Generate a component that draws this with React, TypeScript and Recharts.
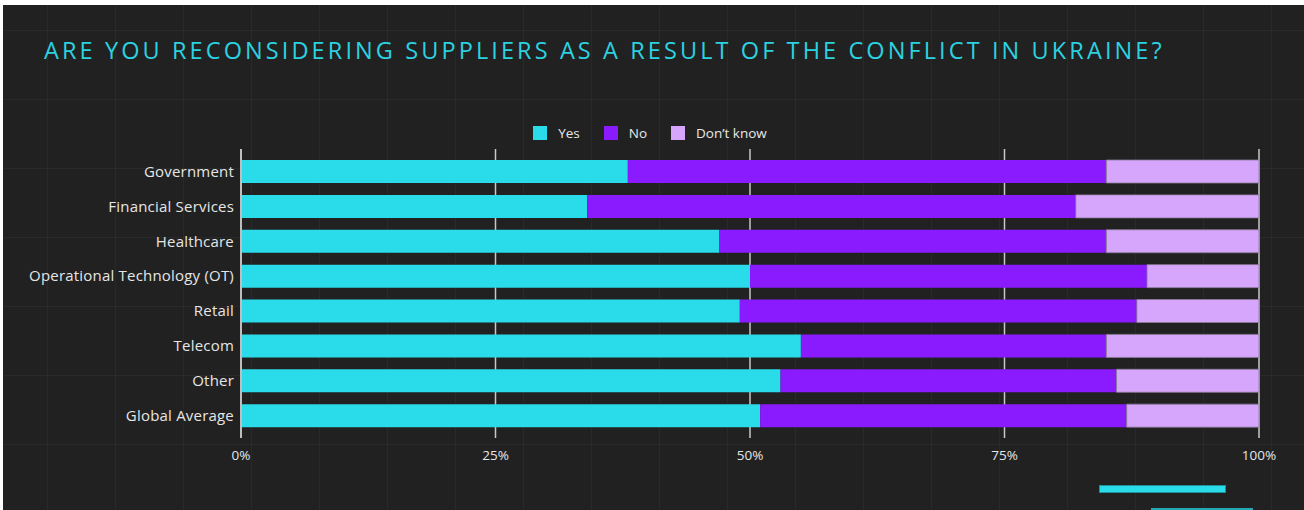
import React from "react";
import { BarChart, Bar, XAxis, YAxis, CartesianGrid } from "recharts";

const categories = [
  "Government",
  "Financial Services",
  "Healthcare",
  "Operational Technology (OT)",
  "Retail",
  "Telecom",
  "Other",
  "Global Average",
];
const yesValues = [38, 34, 47, 50, 49, 55, 53, 51];
const noValues = [47, 48, 38, 39, 39, 30, 33, 36];
const dontKnowValues = [15, 18, 15, 11, 12, 15, 14, 13];
const xTicks = [0, 25, 50, 75, 100];

const series = [
  { key: "yes", name: "Yes", color: "#2adbe9" },
  { key: "no", name: "No", color: "#8a1bff" },
  { key: "dk", name: "Don\u2019t know", color: "#d6a6fc" },
];

const data = categories.map((c, i) => ({
  category: c,
  yes: yesValues[i],
  no: noValues[i],
  dk: dontKnowValues[i],
}));

const FONT = "'Open Sans', 'DejaVu Sans', sans-serif";

export default function App() {
  return (
    <div style={{ position: "absolute", left: 0, top: 0, width: 1304, height: 510 }}>
      <div
        style={{
          position: "absolute",
          left: 3,
          top: 5,
          width: 1301,
          height: 505,
          backgroundColor: "#212121",
          backgroundImage:
            "linear-gradient(to right, rgba(255,255,255,0.035) 1px, transparent 1px), linear-gradient(to bottom, rgba(255,255,255,0.035) 1px, transparent 1px)",
          backgroundSize: "68px 69px",
          backgroundPosition: "44px 25px",
        }}
      />
      <div
        style={{
          position: "absolute",
          left: 44,
          top: 39,
          fontFamily: FONT,
          fontSize: 23.5,
          lineHeight: "23px",
          letterSpacing: 3.1,
          color: "#2bd2e0",
          whiteSpace: "nowrap",
        }}
      >
        ARE YOU RECONSIDERING SUPPLIERS AS A RESULT OF THE CONFLICT IN UKRAINE?
      </div>
      <div
        style={{
          position: "absolute",
          left: 0,
          top: 124,
          width: 1300,
          display: "flex",
          justifyContent: "center",
          gap: 24,
          fontFamily: FONT,
          fontSize: 13.5,
          color: "#e8e8e8",
        }}
      >
        {series.map((s) => (
          <div key={s.key} style={{ display: "flex", alignItems: "center", gap: 11 }}>
            <span style={{ width: 14, height: 14, background: s.color, display: "inline-block" }} />
            <span>{s.name}</span>
          </div>
        ))}
      </div>
      <div style={{ position: "absolute", left: 0, top: 0 }}>
        <BarChart
          width={1304}
          height={510}
          data={data}
          layout="vertical"
          margin={{ top: 149, right: 45, bottom: 42, left: 0 }}
        >
          <CartesianGrid horizontal={false} stroke="#c8c8c8" strokeWidth={1.5} />
          <XAxis
            type="number"
            domain={[0, 100]}
            ticks={xTicks}
            tickFormatter={(v) => `${v}%`}
            axisLine={false}
            tickLine={false}
            tickMargin={6}
            height={30}
            tick={{ fill: "#e6e6e6", fontSize: 13.5, fontFamily: FONT }}
          />
          <YAxis
            type="category"
            dataKey="category"
            width={241}
            padding={{ top: 5, bottom: 5 }}
            axisLine={{ stroke: "#c8c8c8", strokeWidth: 1.5 }}
            tickLine={false}
            tickSize={0}
            tickMargin={7}
            tick={{ fill: "#e6e6e6", fontSize: 15, fontFamily: FONT, letterSpacing: 0.2 }}
          />
          {series.map((s) => (
            <Bar
              key={s.key}
              dataKey={s.key}
              name={s.name}
              stackId="a"
              fill={s.color}
              barSize={23}
              stroke={s.key === "dk" ? "#8c7b98" : undefined}
              strokeWidth={s.key === "dk" ? 0.8 : 0}
              isAnimationActive={false}
            />
          ))}
        </BarChart>
      </div>
      <div
        style={{
          position: "absolute",
          left: 1099,
          top: 485,
          width: 127,
          height: 8,
          background: "#2adbe9",
          boxShadow: "0 0 0 1px #1f8f98 inset",
        }}
      />
      <div
        style={{
          position: "absolute",
          left: 1151,
          top: 508,
          width: 102,
          height: 2,
          background: "#23a9b4",
        }}
      />
    </div>
  );
}
